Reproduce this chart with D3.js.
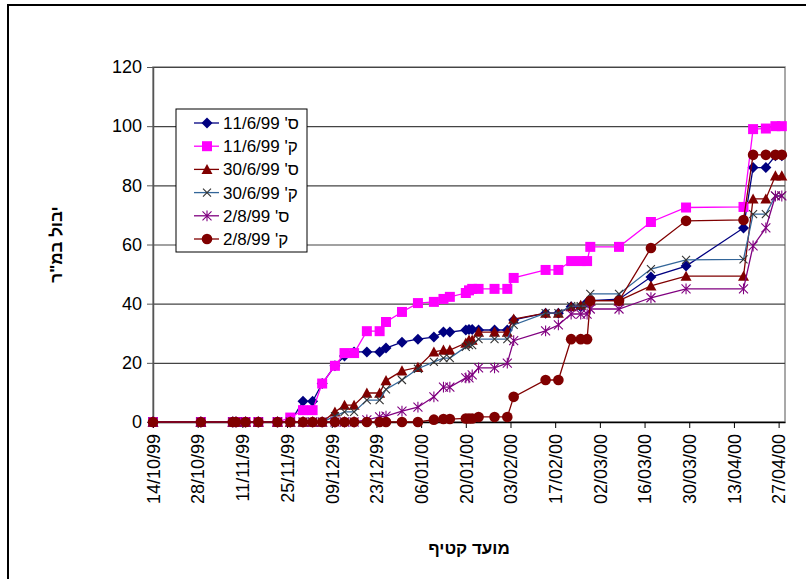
<!DOCTYPE html>
<html>
<head>
<meta charset="utf-8">
<script src="https://cdn.jsdelivr.net/npm/d3@7"></script>
<style>
	body { margin: 0; background: #fff; }
	svg { display: block; font-family: Arial, 'Liberation Sans', sans-serif; }
</style>
</head>
<body>
<div id="chart"></div>
<script>
// harvest dates (shared by every series)
const sampleDates = [
	'1999-10-14', '1999-10-29', '1999-11-08', '1999-11-09', '1999-11-12', '1999-11-16',
	'1999-11-22', '1999-11-26', '1999-11-30', '1999-12-03', '1999-12-06', '1999-12-10',
	'1999-12-13', '1999-12-16', '1999-12-20', '1999-12-24', '1999-12-26', '1999-12-31',
	'2000-01-05', '2000-01-10', '2000-01-13', '2000-01-15', '2000-01-20', '2000-01-21',
	'2000-01-22', '2000-01-24', '2000-01-29', '2000-02-02', '2000-02-04', '2000-02-14',
	'2000-02-18', '2000-02-22', '2000-02-25', '2000-02-27', '2000-02-28', '2000-03-08',
	'2000-03-18', '2000-03-29', '2000-04-16', '2000-04-19', '2000-04-23', '2000-04-26',
	'2000-04-28'
];

// cumulative yield per series
const s_11_6 = [0, 0, 0, 0, 0, 0, 0, 0, 7, 7, 13, 19, 22.3, 23.7, 23.7, 23.7, 25, 27, 28, 28.7, 30.4, 30.4,
	31.1, 31.3, 31.3, 31.1, 31.1, 31.1, 34.5, 36.8, 36.8, 39, 39, 40.5, 41, 41.5, 49, 52.7, 65.6, 86, 86, 90, 90];
const k_11_6 = [0, 0, 0, 0, 0, 0, 0, 1.5, 4, 4, 13, 19, 23.3, 23.3, 30.7, 30.7, 33.8, 37.2, 40.2, 40.6, 41.6, 42.3,
	43.6, 44.5, 45, 45, 45, 45, 48.7, 51.4, 51.4, 54.4, 54.4, 54.4, 59.2, 59.2, 67.6, 72.5, 72.7, 99, 99.2, 100, 100];
const s_30_6 = [0, 0, 0, 0, 0, 0, 0, 0, 0, 0, 0, 3.4, 5.7, 5.7, 9.8, 9.8, 14, 17.3, 18.5, 23.7, 24.3, 24.3,
	26.7, 27.7, 27.7, 30.4, 30.4, 30.4, 34.8, 36.8, 36.8, 39, 39.5, 40.5, 41, 41, 46, 49.3, 49.3, 75.4, 75.4, 83.2, 83.2];
const k_30_6 = [0, 0, 0, 0, 0, 0, 0, 0, 0, 0, 0, 2, 3.4, 3.4, 7.4, 7.4, 11, 14.2, 18, 20.3, 21.6, 21.6,
	25.4, 26, 26, 28, 28, 28, 32.8, 36.8, 36.8, 39.2, 39.2, 39.2, 43.3, 43.3, 51.7, 54.8, 55, 70.3, 70.3, 76.4, 76.4];
const s_2_8 = [0, 0, 0, 0, 0, 0, 0, 0, 0, 0, 0, 0, 0, 0, 0.7, 1.7, 2, 3.7, 5, 8.5, 11.8, 11.8,
	14.9, 14.9, 15.9, 18.3, 18.3, 19.9, 27.5, 30.8, 32.8, 36.5, 36.5, 36.5, 38.2, 38.2, 42, 45, 45, 59.5, 65.6, 76.4, 76.4];
const k_2_8 = [0, 0, 0, 0, 0, 0, 0, 0, 0, 0, 0, 0, 0, 0, 0, 0, 0, 0, 0, 0.8, 1, 1,
	1.2, 1.2, 1.2, 1.7, 1.7, 1.7, 8.5, 14.2, 14.2, 28, 28, 28, 41, 41, 58.8, 68, 68.3, 90.3, 90.3, 90.3, 90.3];

// legend names, written in the order they appear on screen
const seriesNames = ["11/6/99 'ס", "11/6/99 'ק", "30/6/99 'ס", "30/6/99 'ק", "2/8/99 'ס", "2/8/99 'ק"];
const seriesValues = [s_11_6, k_11_6, s_30_6, k_30_6, s_2_8, k_2_8];

const xTickDates = [
	'1999-10-14', '1999-10-28', '1999-11-11', '1999-11-25', '1999-12-09', '1999-12-23', '2000-01-06',
	'2000-01-20', '2000-02-03', '2000-02-17', '2000-03-02', '2000-03-16', '2000-03-30', '2000-04-13', '2000-04-27'
];
const xDomain = ['1999-10-14', '2000-04-29'];
const yTicks = [0, 20, 40, 60, 80, 100, 120];

const xTitle = 'מועד קטיף';
const yTitle = 'יבול במ"ר';

// custom marker shapes for d3.symbol (size = radius squared)
const diamond = { draw(ctx, size) { const r = Math.sqrt(size);
	ctx.moveTo(0, -r); ctx.lineTo(r, 0); ctx.lineTo(0, r); ctx.lineTo(-r, 0); ctx.closePath(); } };
const square = { draw(ctx, size) { const r = Math.sqrt(size); ctx.rect(-r, -r, 2 * r, 2 * r); } };
const triangle = { draw(ctx, size) { const r = Math.sqrt(size);
	ctx.moveTo(0, -r); ctx.lineTo(r, r * 0.85); ctx.lineTo(-r, r * 0.85); ctx.closePath(); } };
const cross = { draw(ctx, size) { const r = Math.sqrt(size);
	ctx.moveTo(-r, -r); ctx.lineTo(r, r); ctx.moveTo(r, -r); ctx.lineTo(-r, r); } };
const asterisk = { draw(ctx, size) { const r = Math.sqrt(size);
	ctx.moveTo(-r, -r); ctx.lineTo(r, r); ctx.moveTo(r, -r); ctx.lineTo(-r, r);
	ctx.moveTo(0, -r * 1.2); ctx.lineTo(0, r * 1.2); } };
const circle = { draw(ctx, size) { const r = Math.sqrt(size); ctx.moveTo(r, 0); ctx.arc(0, 0, r, 0, 2 * Math.PI); } };

const styles = [
	{ line: '#000080', type: diamond, r: 5.5, fill: '#000080', stroke: 'none' },
	{ line: '#ff00ff', type: square, r: 5, fill: '#ff00ff', stroke: 'none' },
	{ line: '#800000', type: triangle, r: 5.5, fill: '#800000', stroke: 'none' },
	{ line: '#336699', type: cross, r: 4, fill: 'none', stroke: '#333' },
	{ line: '#800080', type: asterisk, r: 4.5, fill: 'none', stroke: '#800080' },
	{ line: '#800000', type: circle, r: 5.3, fill: '#800000', stroke: 'none' }
];

const width = 806, height = 579;
const margin = { top: 67, right: 21, bottom: 157, left: 153 };
const parse = d3.utcParse('%Y-%m-%d');

const svg = d3.select('#chart')
	.append('svg')
	.attr('width', width)
	.attr('height', height);

// outer chart frame (runs off the right and bottom edges)
svg.append('rect')
	.attr('x', 8).attr('y', 5)
	.attr('width', 820).attr('height', 600)
	.attr('fill', '#fff')
	.attr('stroke', '#000')
	.attr('stroke-width', 2);

const x = d3.scaleUtc()
	.domain(xDomain.map(parse))
	.range([margin.left, width - margin.right]);

const y = d3.scaleLinear()
	.domain([0, 120])
	.range([height - margin.bottom, margin.top]);

// plot area border
svg.append('rect')
	.attr('x', margin.left).attr('y', margin.top)
	.attr('width', width - margin.right - margin.left)
	.attr('height', height - margin.bottom - margin.top)
	.attr('fill', 'none')
	.attr('stroke', '#8c8c8c')
	.attr('stroke-width', 1.5);

// gridlines
svg.append('g')
	.attr('transform', `translate(${margin.left},0)`)
	.call(d3.axisLeft(y)
		.tickValues(yTicks)
		.tickSize(-(width - margin.left - margin.right))
		.tickFormat('')
	)
	.call(g => g.select('.domain').remove())
	.call(g => g.selectAll('line').attr('stroke', '#444').attr('stroke-width', 1.2));

// y axis
svg.append('g')
	.attr('transform', `translate(${margin.left},0)`)
	.call(d3.axisLeft(y)
		.tickValues(yTicks)
		.tickSize(6)
		.tickPadding(5)
		.tickSizeOuter(0)
	)
	.call(g => g.select('.domain').attr('stroke', '#555').attr('stroke-width', 1.5))
	.call(g => g.selectAll('line').attr('stroke', '#555'))
	.call(g => g.selectAll('text').attr('font-size', 18).attr('fill', '#000').attr('font-family', null));

// x axis
svg.append('g')
	.attr('transform', `translate(0,${height - margin.bottom})`)
	.call(d3.axisBottom(x)
		.tickValues(xTickDates.map(parse))
		.tickSize(6)
		.tickSizeOuter(0)
		.tickFormat(d3.utcFormat('%d/%m/%y'))
	)
	.call(g => g.select('.domain').attr('stroke', '#000').attr('stroke-width', 1.5))
	.call(g => g.selectAll('line').attr('stroke', '#000'))
	.call(g => g.selectAll('text')
		.attr('font-size', 18)
		.attr('font-family', null)
		.attr('fill', '#000')
		.attr('text-anchor', 'end')
		.attr('dy', '0.35em')
		.attr('transform', 'translate(0,12) rotate(-90)')
		.attr('x', 0).attr('y', 0));

// series
const line = d3.line()
	.x(d => x(d.date))
	.y(d => y(d.value));

seriesValues.forEach((values, i) => {
	const st = styles[i];
	const data = values.map((v, j) => ({ date: parse(sampleDates[j]), value: v }));
	const g = svg.append('g').attr('class', `series s${i}`);

	g.append('path')
		.datum(data)
		.attr('fill', 'none')
		.attr('stroke', st.line)
		.attr('stroke-width', 1.3)
		.attr('d', line);

	g.selectAll('path.marker')
		.data(data)
		.join('path')
		.attr('class', 'marker')
		.attr('transform', d => `translate(${x(d.date)},${y(d.value)})`)
		.attr('d', d3.symbol().type(st.type).size(st.r * st.r))
		.attr('fill', st.fill)
		.attr('stroke', st.stroke)
		.attr('stroke-width', 1.1);
});

// legend
const legend = svg.append('g').attr('transform', 'translate(176,109)');
legend.append('rect')
	.attr('width', 131).attr('height', 143)
	.attr('fill', '#fff')
	.attr('stroke', '#000')
	.attr('stroke-width', 1);

seriesNames.forEach((name, i) => {
	const st = styles[i];
	const row = legend.append('g').attr('transform', `translate(0,${14 + i * 23.2})`);
	row.append('line')
		.attr('x1', 18).attr('x2', 43)
		.attr('stroke', st.line)
		.attr('stroke-width', 1.3);
	row.append('path')
		.attr('transform', 'translate(31,0)')
		.attr('d', d3.symbol().type(st.type).size(st.r * st.r))
		.attr('fill', st.fill)
		.attr('stroke', st.stroke)
		.attr('stroke-width', 1.1);
	// keep the glyphs in the on-screen order
	row.append('text')
		.attr('x', 47)
		.attr('dy', '0.35em')
		.attr('font-size', 17)
		.style('direction', 'ltr')
		.style('unicode-bidi', 'bidi-override')
		.text(name);
});

// axis titles
svg.append('text')
	.attr('x', (margin.left + width - margin.right) / 2)
	.attr('y', 554)
	.attr('text-anchor', 'middle')
	.attr('font-size', 17)
	.attr('font-weight', 'bold')
	.text(xTitle);

svg.append('text')
	.attr('transform', `translate(62,${(margin.top + height - margin.bottom) / 2}) rotate(-90)`)
	.attr('text-anchor', 'middle')
	.attr('font-size', 17)
	.attr('font-weight', 'bold')
	.text(yTitle);
</script>
</body>
</html>
